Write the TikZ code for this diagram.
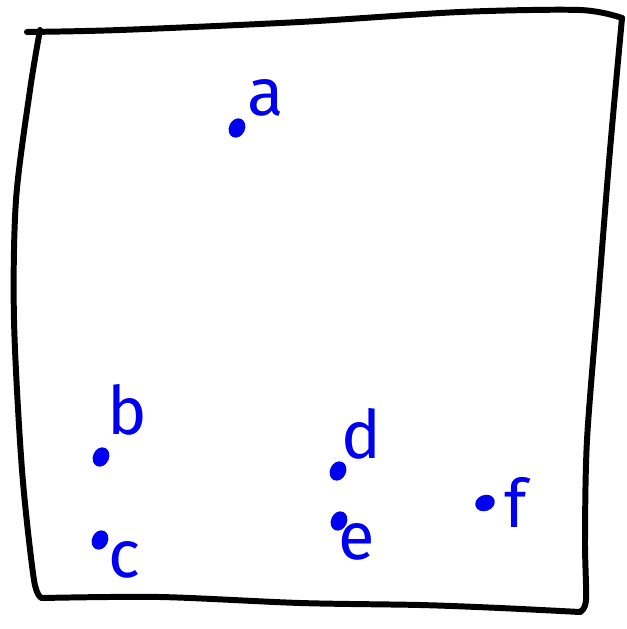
\documentclass[tikz,border=0pt]{standalone}
\usepackage{fontspec}
\setsansfont{Fira Sans}
\usetikzlibrary{positioning, shapes.geometric}
\definecolor{pBlue}{HTML}{0000F0}

\begin{document}
\begin{tikzpicture}[
  x=0.02cm, y=-0.02cm,
  every node/.style={font=\sffamily},
  dot/.style={ellipse, fill=pBlue, inner sep=0pt, minimum width=0.32cm,
              minimum height=0.4cm, rotate=-25},
  lbl/.style={text=pBlue, inner sep=0pt, font=\sffamily\fontsize{38}{38}\selectfont},
  frame/.style={line width=3.4pt, line cap=round, line join=round},
]
  \useasboundingbox (0,0) rectangle (626,629);

  % hand-drawn frame
  \draw[frame] plot[smooth, tension=0.5] coordinates {
    (27,32) (120,30) (300,22) (460,12) (580,10) (622,18)};
  \draw[frame] plot[smooth, tension=0.5] coordinates {
    (622,18) (610,150) (598,300) (587,440) (585,540) (586,600) (580,612)};
  \draw[frame] plot[smooth, tension=0.5] coordinates {
    (580,612) (500,608) (420,605) (300,603) (160,597) (42,598)};
  \draw[frame] plot[smooth, tension=0.5] coordinates {
    (42,598) (34,580) (22,470) (14,320) (16,200) (30,90) (40,30)};

  % points
  \node[dot] (a) at (237,128) {};
  \node[dot] (b) at (101,457) {};
  \node[dot] (c) at (100,540) {};
  \node[dot] (d) at (338,471) {};
  \node[dot] (e) at (339,521) {};
  \node[dot, rotate=-45] (f) at (485,503) {};

  % labels
  \node[lbl] (la) at (266,98) {a};
  \node[lbl] (lb) at (127,410) {b};
  \node[lbl] (lc) at (124,560) {c};
  \node[lbl] (ld) at (361,434) {d};
  \node[lbl] (le) at (357,542) {e};
  \node[lbl] (lf) at (516,502) {f};
\end{tikzpicture}
\end{document}
